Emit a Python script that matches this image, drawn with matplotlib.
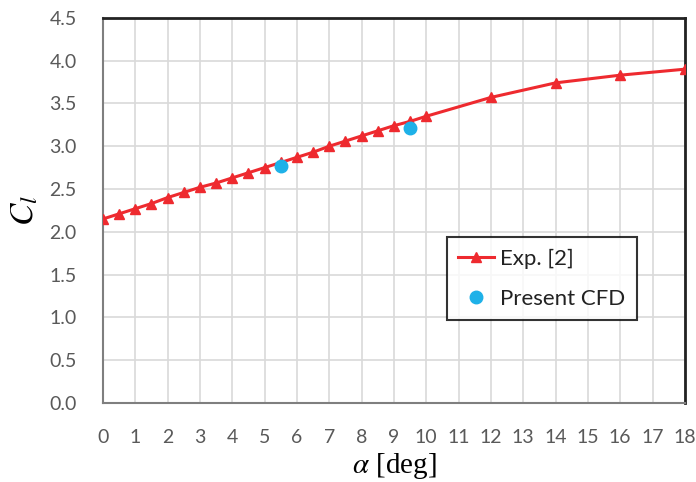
import matplotlib.pyplot as plt

# angle of attack [deg] and lift coefficient, experiment
alpha_exp = [0, 0.5, 1, 1.5, 2, 2.5, 3, 3.5, 4, 4.5, 5, 5.5, 6, 6.5, 7, 7.5,
             8, 8.5, 9, 9.5, 10, 12, 14, 16, 18]
cl_exp = [2.15, 2.21, 2.27, 2.33, 2.40, 2.46, 2.52, 2.57, 2.63, 2.69, 2.75,
          2.81, 2.87, 2.93, 3.00, 3.06, 3.12, 3.18, 3.24, 3.29, 3.35,
          3.57, 3.74, 3.83, 3.90]

# present CFD
alpha_cfd = [5.5, 9.5]
cl_cfd = [2.77, 3.21]

plt.rcParams['mathtext.fontset'] = 'stix'

fig = plt.figure(figsize=(6.96, 4.82), dpi=100)
ax = fig.add_axes([0.148, 0.164, 0.836, 0.799])

ax.plot(alpha_exp, cl_exp, color='#ee2a2f', lw=2.2, marker='^', ms=7.5,
        label='Exp. [2]', zorder=3)
ax.plot(alpha_cfd, cl_cfd, ls='none', marker='o', ms=9, color='#1eb1e8',
        label='Present CFD', zorder=4)

ax.set_xlim(0, 18)
ax.set_ylim(0, 4.5)
ax.set_xticks(range(0, 19))
ax.set_yticks([i * 0.5 for i in range(10)])
ax.set_yticklabels(['%.1f' % (i * 0.5) for i in range(10)])
ax.grid(True, color='#d9d9d9', lw=1.2)
ax.set_axisbelow(True)

ax.tick_params(length=0, labelsize=14, labelcolor='#595959')
ax.tick_params(axis='x', pad=19)
ax.tick_params(axis='y', pad=19)
for lab in ax.get_xticklabels() + ax.get_yticklabels():
    lab.set_family('Lato')

for s in ['left', 'bottom']:
    ax.spines[s].set_color('#7f7f7f')
    ax.spines[s].set_linewidth(1.5)
for s in ['top', 'right']:
    ax.spines[s].set_color('#222222')
    ax.spines[s].set_linewidth(2)

ax.set_xlabel(r'$\alpha$ [deg]', fontsize=21, family='Liberation Serif', labelpad=3)
ax.set_ylabel(r'$C_l$', fontsize=24, labelpad=6)

leg = ax.legend(loc='lower left', bbox_to_anchor=(0.591, 0.216),
                prop={'family': 'Lato', 'size': 16}, frameon=True, fancybox=False,
                edgecolor='black', handlelength=1.6, handletextpad=0.3,
                borderpad=0.5, labelspacing=0.9, borderaxespad=0)
leg.get_frame().set_linewidth(1.5)
for t in leg.get_texts():
    t.set_color('#222222')

fig.savefig('out.png', dpi=100)
